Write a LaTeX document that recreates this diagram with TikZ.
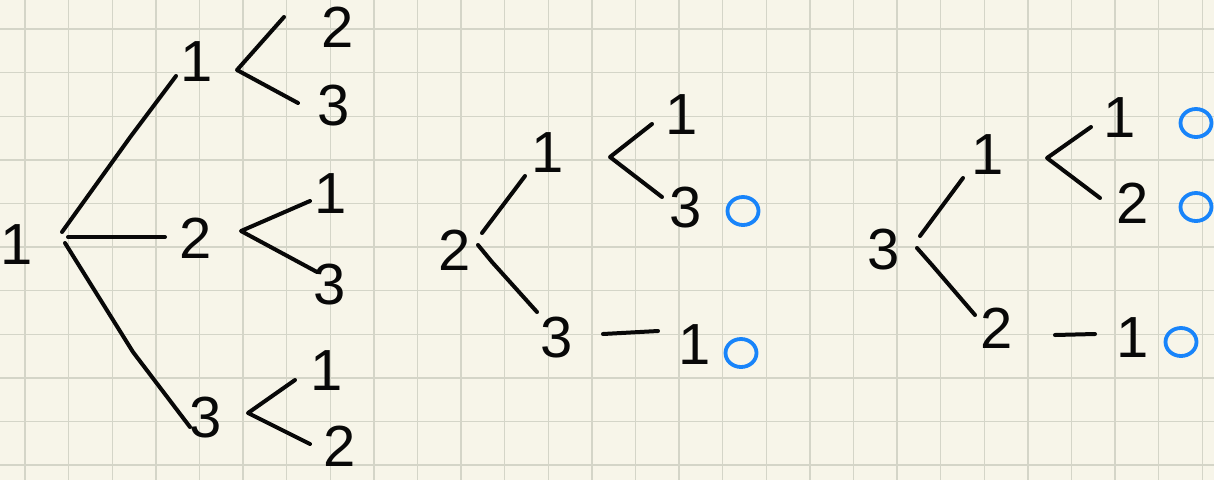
\documentclass[tikz,border=0pt]{standalone}
\usepackage{fontspec}
\setmainfont{Liberation Sans}
\usetikzlibrary{shapes.geometric}
\definecolor{paper}{RGB}{247,245,233}
\definecolor{gridc}{RGB}{212,213,200}
\definecolor{ink}{RGB}{8,8,8}
\definecolor{mark}{RGB}{24,132,250}
\begin{document}
\begin{tikzpicture}[x=1pt,y=-1pt,
  digit/.style={inner sep=0pt,text=ink,font=\fontsize{58}{58}\selectfont},
  stroke/.style={draw=ink,line width=4pt,line cap=round,line join=round},
  okmark/.style={draw=mark,line width=3.8pt,ellipse,inner sep=0pt,minimum width=31pt,minimum height=28pt}]
\useasboundingbox (0,0) rectangle (1214,480);
\fill[paper] (0,0) rectangle (1214,480);
\foreach \i in {0,...,27} \draw[gridc,line width=1.4pt] ({25+43.6*\i},0) -- ({25+43.6*\i},480);
\foreach \j in {0,...,10} \draw[gridc,line width=1.4pt] (0,{29+43.6*\j}) -- (1214,{29+43.6*\j});
% ---------- tree 1 ----------
\node[digit] (r1) at (17,245) {1};
\node[digit] (a1) at (197,62) {1};
\node[digit] (a11) at (338,27) {2};
\node[digit] (a12) at (334,106) {3};
\node[digit] (a2) at (196,238) {2};
\node[digit] (a21) at (331,194) {1};
\node[digit] (a22) at (330,285) {3};
\node[digit] (a3) at (206,418) {3};
\node[digit] (a31) at (327,371) {1};
\node[digit] (a32) at (340,446) {2};
\coordinate (r1a) at (62,232); \coordinate (r1am) at (131,136); \coordinate (a1in) at (176,76);
\coordinate (r1b) at (68,237); \coordinate (a2in) at (165,237);
\coordinate (r1c) at (65,243); \coordinate (r1cm) at (133,352); \coordinate (a3in) at (190,427);
\draw[stroke] (r1a) -- (r1am) -- (a1in);
\draw[stroke] (r1b) -- (a2in);
\draw[stroke] (r1c) -- (r1cm) -- (a3in);
\coordinate (a1u) at (284,17); \coordinate (a1v) at (237,70); \coordinate (a1l) at (298,103);
\draw[stroke] (a1u) -- (a1v) -- (a1l);
\coordinate (a2u) at (310,201); \coordinate (a2v) at (241,231); \coordinate (a2l) at (317,272);
\draw[stroke] (a2u) -- (a2v) -- (a2l);
\coordinate (a3u) at (295,380); \coordinate (a3v) at (248,413); \coordinate (a3l) at (310,444);
\draw[stroke] (a3u) -- (a3v) -- (a3l);
% ---------- tree 2 ----------
\node[digit] (b) at (455,250) {2};
\node[digit] (b1) at (548,153) {1};
\node[digit] (b11) at (682,115) {1};
\node[digit] (b12) at (686,208) {3};
\node[digit] (b2) at (557,338) {3};
\node[digit] (b21) at (695,345) {1};
\node[okmark] (bm1) at (743,211) {};
\node[okmark] (bm2) at (741,353) {};
\coordinate (bo1) at (482,233); \coordinate (b1in) at (525,176);
\draw[stroke] (bo1) -- (b1in);
\coordinate (bo2) at (478,245); \coordinate (bo2m) at (492,262); \coordinate (b2in) at (537,312);
\draw[stroke] (bo2) -- (bo2m) -- (b2in);
\coordinate (b1u) at (652,124); \coordinate (b1v) at (610,157); \coordinate (b1l) at (662,197);
\draw[stroke] (b1u) -- (b1v) -- (b1l);
\coordinate (b2o) at (603,334); \coordinate (b21in) at (658,331);
\draw[stroke] (b2o) -- (b21in);
% ---------- tree 3 ----------
\node[digit] (c) at (884,250) {3};
\node[digit] (c1) at (988,155) {1};
\node[digit] (c11) at (1120,118) {1};
\node[digit] (c12) at (1133,203) {2};
\node[digit] (c2) at (997,328) {2};
\node[digit] (c21) at (1133,338) {1};
\node[okmark] (cm1) at (1196,123) {};
\node[okmark] (cm2) at (1196,207) {};
\node[okmark] (cm3) at (1181,342) {};
\coordinate (co1) at (920,236); \coordinate (c1in) at (963,178);
\draw[stroke] (co1) -- (c1in);
\coordinate (co2) at (917,248); \coordinate (co2m) at (932,265); \coordinate (c2in) at (975,315);
\draw[stroke] (co2) -- (co2m) -- (c2in);
\coordinate (c1u) at (1091,127); \coordinate (c1v) at (1047,158); \coordinate (c1l) at (1100,198);
\draw[stroke] (c1u) -- (c1v) -- (c1l);
\coordinate (c2o) at (1055,335); \coordinate (c21in) at (1095,334);
\draw[stroke] (c2o) -- (c21in);
\end{tikzpicture}
\end{document}
